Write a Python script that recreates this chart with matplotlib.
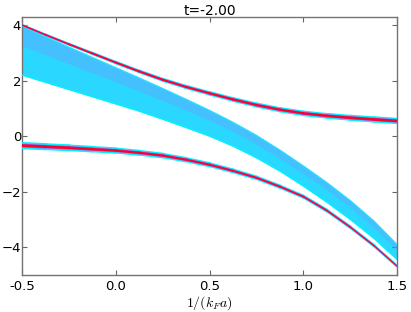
import numpy as np
import matplotlib
matplotlib.use('Agg')
import matplotlib.pyplot as plt
from matplotlib.collections import LineCollection

plt.rcParams['mathtext.fontset'] = 'cm'

# 1/(k_F a) sample points
x = [-0.5, -0.375, -0.25, -0.125, 0.0, 0.125, 0.25, 0.375, 0.5,
     0.625, 0.75, 0.875, 1.0, 1.125, 1.25, 1.375, 1.5]

# upper and lower sharp branches (red)
upper_branch = [4.00, 3.65, 3.31, 2.98, 2.65, 2.33, 2.03, 1.77, 1.54,
                1.32, 1.12, 0.95, 0.82, 0.73, 0.66, 0.60, 0.545]
lower_branch = [-0.34, -0.38, -0.42, -0.47, -0.52, -0.60, -0.70, -0.85, -1.03,
                -1.25, -1.50, -1.82, -2.18, -2.68, -3.28, -3.94, -4.69]

# broad continuum band
band_top = [3.97, 3.59, 3.21, 2.84, 2.47, 2.10, 1.72, 1.33, 0.93,
            0.50, 0.03, -0.50, -1.07, -1.67, -2.32, -3.05, -3.91]
band_mid = [3.26, 2.93, 2.60, 2.27, 1.95, 1.62, 1.28, 0.92, 0.56,
            0.16, -0.30, -0.80, -1.36, -1.94, -2.57, -3.30, -4.13]
band_bot = [2.20, 1.94, 1.68, 1.42, 1.16, 0.90, 0.61, 0.31, 0.00,
            -0.36, -0.78, -1.26, -1.80, -2.38, -3.00, -3.68, -4.45]

xticks = [-0.5, 0.0, 0.5, 1.0, 1.5]
xticklabels = ['-0.5', '0.0', '0.5', '1.0', '1.5']
yticks = [-4, -2, 0, 2, 4]


def varline(ax, xs, ys, w0, w1, color, z):
    pts = np.array([xs, ys]).T.reshape(-1, 1, 2)
    segs = np.concatenate([pts[:-1], pts[1:]], axis=1)
    lw = np.linspace(w0, w1, len(segs))
    lc = LineCollection(segs, linewidths=lw, colors=color, zorder=z,
                        capstyle='round', joinstyle='round')
    ax.add_collection(lc)


fig = plt.figure(figsize=(4.11, 3.12), dpi=100)
ax = fig.add_axes([0.053, 0.1186, 0.9137, 0.828])

# continuum
ax.fill_between(x, band_bot, band_top, color='#2ad8ff', lw=0, zorder=1)
ax.fill_between(x, band_mid, band_top, color='#58b0ff', alpha=0.6, lw=0, zorder=2)
ax.plot(x, band_top, color='#22e4ff', lw=0.8, zorder=3)
ax.plot(x, band_bot, color='#00f2ff', lw=1.0, zorder=3)

# sharp branches: cyan halo, purple rim, red core
varline(ax, x, upper_branch, 1.8, 4.6, '#00f0ff', 4)
varline(ax, x, upper_branch, 1.3, 2.6, '#9a6cff', 5)
varline(ax, x, upper_branch, 1.0, 1.9, '#ff0028', 6)
varline(ax, x, lower_branch, 5.2, 2.0, '#00f0ff', 4)
varline(ax, x, lower_branch, 2.8, 1.2, '#9a6cff', 5)
varline(ax, x, lower_branch, 2.0, 0.8, '#ff0028', 6)

ax.set_xlim(-0.5, 1.5)
ax.set_ylim(-5, 4.3)
ax.set_xticks(xticks)
ax.set_xticklabels(xticklabels)
ax.set_yticks(yticks)
ax.tick_params(direction='in', top=True, right=True, length=3.5,
               width=0.8, color='0.4', labelsize=9.5, pad=2)
ax.tick_params(axis='y', pad=0.5)
ax.tick_params(axis='x', pad=3.5)
for s in ax.spines.values():
    s.set_color('0.45')
    s.set_linewidth(1.0)

ax.set_xlabel(r'$1/(k_F a)$', fontsize=10, labelpad=1)
ax.set_title('t=-2.00', fontsize=10, pad=1.5)

fig.savefig('out.png', dpi=100)
